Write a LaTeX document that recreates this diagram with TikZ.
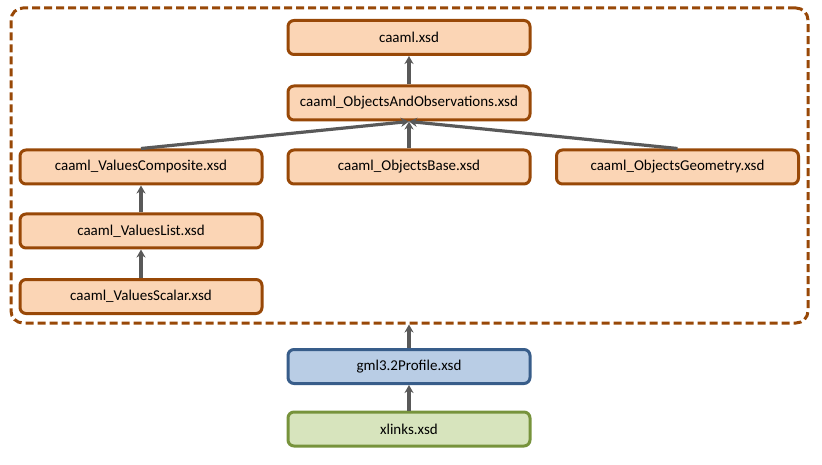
\documentclass[tikz,border=0pt]{standalone}
\usepackage{fontspec}
\setmainfont{Carlito}
\usetikzlibrary{arrows.meta}
\definecolor{brownline}{HTML}{984807}
\definecolor{peach}{HTML}{FBD5B5}
\definecolor{blueline}{HTML}{385D8A}
\definecolor{bluefill}{HTML}{B9CDE5}
\definecolor{greenline}{HTML}{77933C}
\definecolor{greenfill}{HTML}{D7E4BD}
\definecolor{arrowgray}{HTML}{595959}
\tikzset{
  filebox/.style={draw=brownline, fill=peach, line width=3pt, rounded corners=6pt,
    minimum width=242pt, minimum height=34pt, inner sep=0pt,
    font=\fontsize{15}{17}\selectfont},
  gmlbox/.style={filebox, draw=blueline, fill=bluefill},
  linkbox/.style={filebox, draw=greenline, fill=greenfill},
  groupframe/.style={draw=brownline, line width=3pt, dash pattern=on 8pt off 4pt,
    rounded corners=12pt, minimum width=797pt, minimum height=315pt, inner sep=0pt},
  dep/.style={draw=arrowgray, line width=3.2pt, -{Stealth[length=8pt,width=9pt]}}
}
\begin{document}
\begin{tikzpicture}[x=1pt, y=-1pt]
\useasboundingbox (0,0) rectangle (822,465);
% group of CAAML schema files
\node[groupframe] (group) at (409.5,165.5) {};
\node[filebox] (caaml) at (409,37.5) {caaml.xsd};
\node[filebox] (obs) at (409,103) {caaml\_ObjectsAndObservations.xsd};
\node[filebox] (comp) at (141,167) {caaml\_ValuesComposite.xsd};
\node[filebox] (base) at (409,167) {caaml\_ObjectsBase.xsd};
\node[filebox] (geom) at (677.5,167) {caaml\_ObjectsGeometry.xsd};
\node[filebox] (list) at (141,231) {caaml\_ValuesList.xsd};
\node[filebox] (scalar) at (141,296.5) {caaml\_ValuesScalar.xsd};
% external schemas
\node[gmlbox] (gml) at (409,366.5) {gml3.2Profile.xsd};
\node[linkbox] (xlinks) at (409,429) {xlinks.xsd};
% dependencies
\draw[dep] (obs) -- (caaml);
\draw[dep] (comp.north) -- (obs.south);
\draw[dep] (base) -- (obs);
\draw[dep] (geom.north) -- (obs.south);
\draw[dep] (list) -- (comp);
\draw[dep] (scalar) -- (list);
\draw[dep] (gml.north) -- (gml.north |- group.south);
\draw[dep] (xlinks) -- (gml);
\end{tikzpicture}
\end{document}
